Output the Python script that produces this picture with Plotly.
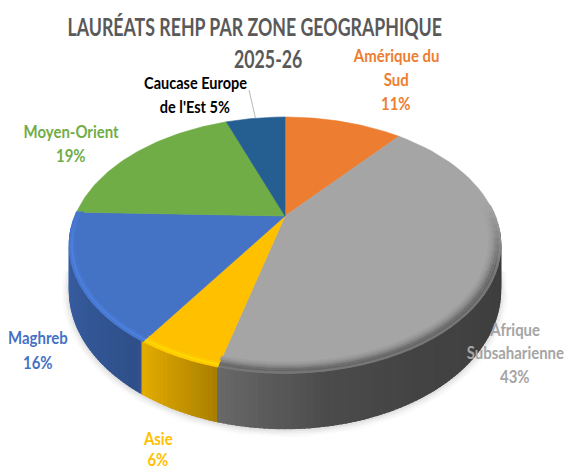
import numpy as np
import plotly.graph_objects as go

categories = ["Amérique du Sud", "Afrique Subsaharienne", "Asie", "Maghreb", "Moyen-Orient", "Caucase Europe de l'Est"]
values = [11.0, 43.0, 5.2, 16.3, 19.0, 5.5]
percent_labels = ["11%", "43%", "6%", "16%", "19%", "5%"]
colors = ["#ED7D31", "#A5A5A5", "#FFC000", "#4472C4", "#70AD47", "#255E91"]
title_lines = ["LAURÉATS REHP PAR ZONE GEOGRAPHIQUE", "2025-26"]

W, H = 581, 468
CX, CY, A, C, K, DEPTH = 285, 216, 210, 121.4, 0.2266, 43
FONT = "Lato"


def project(theta_deg, r=1.0):
    t = np.radians(theta_deg)
    u, v = r * np.sin(t), r * np.cos(t)
    den = 1 + K * v
    return CX + A * u / den, CY - C * v / den, den


def rgb(hex_c):
    return np.array([int(hex_c[i:i + 2], 16) for i in (1, 3, 5)], float)


def css(c):
    c = np.clip(c, 0, 255).astype(int)
    return f"rgb({c[0]},{c[1]},{c[2]})"


cum = np.concatenate([[0], np.cumsum(values)]) / sum(values) * 360
fig = go.Figure()


def poly(xs, ys, color, lw=0.6):
    fig.add_trace(go.Scatter(x=xs, y=ys, mode="lines", fill="toself", fillcolor=color,
                             line=dict(color=color, width=lw), hoverinfo="skip", showlegend=False))


def slice_index(theta):
    return min(int(np.searchsorted(cum, theta, side="right")) - 1, len(values) - 1)


# soft shadow under the base
ts = np.linspace(95, 265, 120)
for width, alpha in [(16, 0.025), (12, 0.035), (8, 0.05), (4, 0.07)]:
    x, y, d = project(ts)
    fig.add_trace(go.Scatter(x=x, y=y + DEPTH / d + 1, mode="lines",
                             line=dict(color=f"rgba(90,90,90,{alpha})", width=width),
                             hoverinfo="skip", showlegend=False))

# side wall: each slice has its own gradient, painted with overlapping strips
shade_t = [95, 150, 172, cum[2] - 0.5, cum[2] + 0.5, cum[3] - 0.5, cum[3] + 0.5, 262]
shade_v = [.37, .41, .46, .64, .68, .90, .70, .86]
edges = np.arange(96, 264.01, 1.0)
for t0, t1 in sorted(zip(edges[:-1], edges[1:]), key=lambda p: abs((p[0] + p[1]) / 2 - 180), reverse=True):
    mid = (t0 + t1) / 2
    idx = slice_index(mid)
    c = rgb(colors[idx]) * np.interp(mid, shade_t, shade_v)
    lo = t0 - 0.5 if mid < 180 else t0
    hi = t1 + 0.5 if mid >= 180 else t1
    tt = np.linspace(lo, hi, 3)
    x, y, d = project(tt)
    by = y + DEPTH / d
    poly(list(x) + list(x[::-1]), list(y) + list(by[::-1]), css(c), lw=1.2)

# top face
for i in range(len(values)):
    tt = np.linspace(cum[i], cum[i + 1], 60)
    x, y, _ = project(tt)
    poly([CX] + list(x) + [CX], [CY] + list(y) + [CY], colors[i])

# bevel at the rim of the top face, fading out towards the sides
bevels = {
    1: [(0.95, 0.96), (0.96, 0.90), (0.97, 0.80), (0.98, 0.68), (0.99, 0.62), (0.998, 0.72)],
    2: [(0.97, 1.0), (0.98, 1.05), (0.99, 1.14), (0.998, 1.06)],
    3: [(0.97, 1.0), (0.98, 1.05), (0.99, 1.14), (0.998, 1.06)],
}
for i, stops in bevels.items():
    base = rgb(colors[i])
    tedges = np.arange(max(cum[i], 85), min(cum[i + 1], 285) + 0.01, 3.0)
    tedges[-1] = min(cum[i + 1], 285)
    for t0, t1 in zip(tedges[:-1], tedges[1:]):
        mid = (t0 + t1) / 2
        fade = np.clip(min((mid - 85) / 30, (285 - mid) / 30), 0, 1)
        for r, f in stops:
            x, y, _ = project(np.linspace(t0, t1 + 0.3, 4), r)
            factor = 1 + (f - 1) * fade
            fig.add_trace(go.Scatter(x=x, y=y, mode="lines", line=dict(color=css(base * factor), width=2.4),
                                     hoverinfo="skip", showlegend=False))

# leader line of the small slice
mid_small = (cum[5] + cum[6]) / 2
lx, ly, _ = project(mid_small)
fig.add_trace(go.Scatter(x=[249, lx], y=[90, ly], mode="lines", line=dict(color="#A6A6A6", width=0.8),
                         hoverinfo="skip", showlegend=False))

label_specs = [
    (0, ["Amérique du", "Sud"], 396, [55, 79, 103]),
    (1, ["Afrique", "Subsaharienne"], 515, [329, 352, 376]),
    (2, ["Asie"], 158, [438, 459]),
    (3, ["Maghreb"], 38, [337, 362]),
    (4, ["Moyen-Orient"], 71, [131, 155]),
]
annotations = []


def add_text(text, x, y, size, color):
    annotations.append(dict(text=f"<b>{text}</b>", x=x, y=y, xref="x", yref="y", showarrow=False,
                            xanchor="center", yanchor="middle",
                            font=dict(family=FONT, size=size, color=color)))


for idx, lines, x, ys in label_specs:
    for line, y in zip(lines + [percent_labels[idx]], ys):
        add_text(line, x, y, 17, colors[idx])
add_text("Caucase Europe", 195, 83, 16.5, "#000000")
add_text("de l'Est " + percent_labels[5], 195, 107, 16.5, "#000000")
add_text(title_lines[0], 254, 26, 25, "#595959")
add_text(title_lines[1], 268, 58, 25, "#595959")

fig.update_layout(
    width=W, height=H, margin=dict(l=0, r=0, t=0, b=0),
    paper_bgcolor="white", plot_bgcolor="white", showlegend=False,
    xaxis=dict(range=[0, W], visible=False, fixedrange=True),
    yaxis=dict(range=[H, 0], visible=False, fixedrange=True),
    annotations=annotations,
)
squeeze = """
document.body.style.margin='0';document.body.style.overflow='hidden';
document.querySelectorAll('.annotation-text').forEach(function(el){
  var big = parseFloat(el.style.fontSize) > 20, s = big ? 0.71 : 0.88;
  var b = el.getBBox(), c = b.x + b.width / 2;
  el.setAttribute('transform', 'translate(' + c + ',0) scale(' + s + ',1) translate(' + (-c) + ',0)');
});
"""
fig.write_html("out.html", config={"displayModeBar": False}, post_script=squeeze)
